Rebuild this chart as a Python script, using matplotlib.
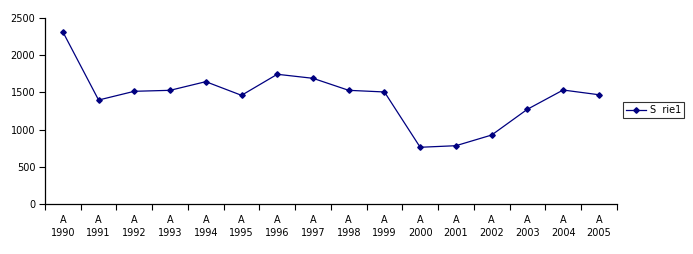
import matplotlib
matplotlib.use("Agg")
import matplotlib.pyplot as plt
import numpy as np

years = ["1990", "1991", "1992", "1993", "1994", "1995", "1996", "1997",
         "1998", "1999", "2000", "2001", "2002", "2003", "2004", "2005"]
values = [2310, 1397, 1514, 1527, 1643, 1460, 1742, 1688,
          1527, 1505, 764, 785, 928, 1273, 1531, 1468]
labels = ["A\n" + y for y in years]
series_name = "S  rie1"

plt.rcParams['font.family'] = ['DejaVu Sans']

fig = plt.figure(figsize=(6.93, 2.54), dpi=100)
ax = fig.add_axes([45/693, 1-204.3/254, (616.7-45)/693, (204.3-17.7)/254])

x = np.arange(len(values))
ax.plot(x, values, color='#000080', lw=0.9, marker='D', ms=2.8, label=series_name)

ax.set_xlim(-0.5, len(values) - 0.5)
ax.set_ylim(0, 2500)
ax.set_yticks(np.arange(0, 2501, 500))
ax.set_xticks(np.arange(-0.5, len(values), 1.0))
ax.set_xticklabels([])
ax.set_xticks(x, minor=True)
ax.set_xticklabels(labels, minor=True, fontsize=7, linespacing=1.45)
ax.tick_params(axis='x', which='minor', length=0, pad=7.5)
ax.tick_params(axis='x', which='major', length=4, width=0.8, direction='out')
ax.tick_params(axis='y', length=4, width=0.8, labelsize=7, pad=3)

for s in ['top', 'right']:
    ax.spines[s].set_visible(False)
for s in ['left', 'bottom']:
    ax.spines[s].set_linewidth(0.9)

leg = ax.legend(loc='center left', bbox_to_anchor=(623/693, 1-110/254),
                bbox_transform=fig.transFigure, fontsize=7, frameon=True,
                fancybox=False, edgecolor='black', borderpad=0.35,
                handlelength=2.0, handletextpad=0.4, borderaxespad=0)
leg.get_frame().set_linewidth(0.8)

fig.savefig("out.png", dpi=100)
